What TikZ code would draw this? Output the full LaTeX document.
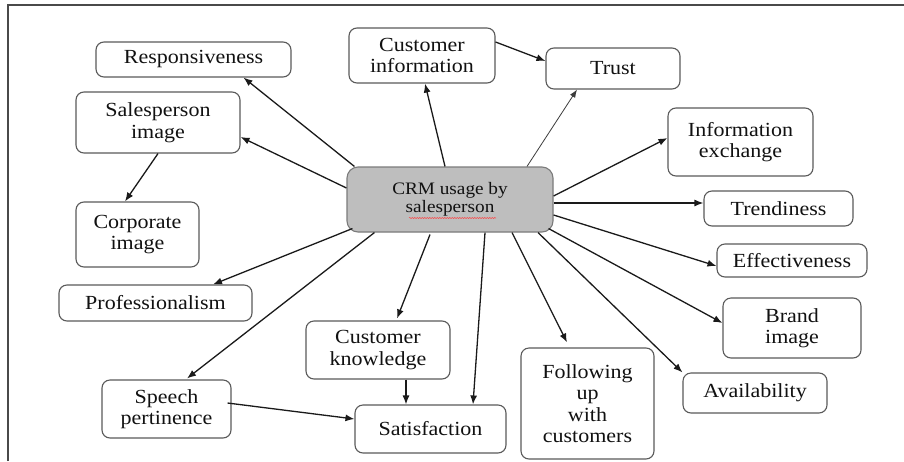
\documentclass[tikz,border=0pt]{standalone}
\usepackage{fontspec}
\setmainfont[FakeStretch=1.1]{Liberation Serif}
\usetikzlibrary{arrows.meta,calc,decorations.pathmorphing}
\definecolor{boxline}{HTML}{5A5A5A}
\definecolor{txt}{HTML}{111111}
\definecolor{crmfill}{HTML}{BEBEBE}
\definecolor{arr}{HTML}{1A1A1A}
\definecolor{frame}{HTML}{4A4A4A}
\begin{document}
\begin{tikzpicture}[x=1pt,y=-1pt,
  box/.style={draw=boxline, line width=1.1pt, rounded corners=8pt, inner sep=0pt,
     align=center, text=txt, font=\fontsize{20}{21.5}\selectfont},
  hub/.style={box, fill=crmfill, draw=boxline!80, rounded corners=11pt, font=\fontsize{17.5}{18.5}\selectfont},
  link/.style={draw=arr, line width=1.3pt, -{Latex[length=9pt,width=7pt]}},
  thin/.style={draw=arr!85, line width=0.8pt, -{Latex[length=8pt,width=6pt]}}]
\useasboundingbox (0,0) rectangle (904,461);
\fill[white] (0,0) rectangle (904,461);
% frame
\draw[frame, line width=1.5pt] (8,461) -- (8,5) -- (904,5);
% nodes
\node[box, minimum width=195pt, minimum height=35pt] (resp) at (193.5,59.5) {Responsiveness};
\node[box, minimum width=146pt, minimum height=55pt] (cinfo) at (422,55.5) {Customer\\information};
\node[box, minimum width=134pt, minimum height=41pt] (trust) at (613,68.5) {Trust};
\node[box, minimum width=164pt, minimum height=61pt] (simage) at (158,122.5) {Salesperson\\image};
\node[box, minimum width=123pt, minimum height=65pt] (corp) at (137.5,234.5) {Corporate\\image};
\node[hub, minimum width=206pt, minimum height=65pt] (crm) at (450,199.5) {CRM usage by\\salesperson};
\node[box, minimum width=145pt, minimum height=68pt] (infox) at (740.5,142) {Information\\exchange};
\node[box, minimum width=149pt, minimum height=35pt] (trend) at (778.5,208.5) {Trendiness};
\node[box, minimum width=150pt, minimum height=33pt] (effect) at (792,260.5) {Effectiveness};
\node[box, minimum width=193pt, minimum height=36pt] (prof) at (155.5,303) {Professionalism};
\node[box, minimum width=138pt, minimum height=60pt] (brand) at (792,328) {Brand\\image};
\node[box, minimum width=144pt, minimum height=58pt] (cknow) at (378,350) {Customer\\knowledge};
\node[box, minimum width=133pt, minimum height=111pt] (follow) at (587.5,403.5) {Following\\up\\with\\customers};
\node[box, minimum width=144pt, minimum height=40pt] (avail) at (755,393) {Availability};
\node[box, minimum width=129pt, minimum height=58pt] (speech) at (166.5,409) {Speech\\pertinence};
\node[box, minimum width=151pt, minimum height=48pt] (satis) at (430.5,429) {Satisfaction};
% spell-check squiggle
\draw[red!75, line width=0.5pt, decorate, decoration={snake, amplitude=0.6pt, segment length=2.5pt}]
  ($(crm.center)+(-41,18.5)$) -- ($(crm.center)+(46,18.5)$);
% connectors
\draw[link] ($(crm.north west)+(8,0)$) -- ($(resp.south)+(50,0)$);
\draw[link] ($(crm.west)+(0,-11.5)$) -- ($(simage.east)+(0,14.5)$);
\draw[link] (simage.south) -- ($(corp.north)+(-12.5,0)$);
\draw[link] ($(crm.north)+(-5,0)$) -- ($(cinfo.south)+(3,0)$);
\draw[link] ($(cinfo.east)+(0,-13.5)$) -- ($(trust.west)+(0,-7.5)$);
\draw[thin] ($(crm.north)+(77,0)$) -- ($(trust.south)+(-36,0)$);
\draw[link] ($(crm.east)+(0,-3.5)$) -- ($(infox.west)+(0,-4)$);
\draw[link] ($(crm.east)+(0,3.5)$) -- ($(trend.west)+(0,-5.5)$);
\draw[link] ($(crm.east)+(0,15.5)$) -- ($(effect.west)+(0,5.5)$);
\draw[link] ($(crm.south east)+(-5,-4)$) -- ($(brand.west)+(0,-5)$);
\draw[link] ($(crm.south)+(88,0)$) -- (avail.north west);
\draw[link] ($(crm.south)+(62,0)$) -- ($(follow.north)+(-20.5,-5)$);
\draw[link] ($(crm.south)+(35,0)$) -- ($(satis.north)+(42.5,0)$);
\draw[link] ($(crm.south)+(-20,2)$) -- ($(cknow.north)+(19,-2)$);
\draw[link] ($(crm.south west)+(6,-4)$) -- ($(prof.north)+(57.5,0)$);
\draw[link] ($(crm.south west)+(28,0)$) -- ($(speech.north)+(20.5,-1)$);
\draw[link] ($(cknow.south)+(28,0)$) -- ($(satis.north)+(-24.5,0)$);
\draw[link] ($(speech.east)+(-4,-6)$) -- ($(satis.west)+(0,-10)$);
\end{tikzpicture}
\end{document}
